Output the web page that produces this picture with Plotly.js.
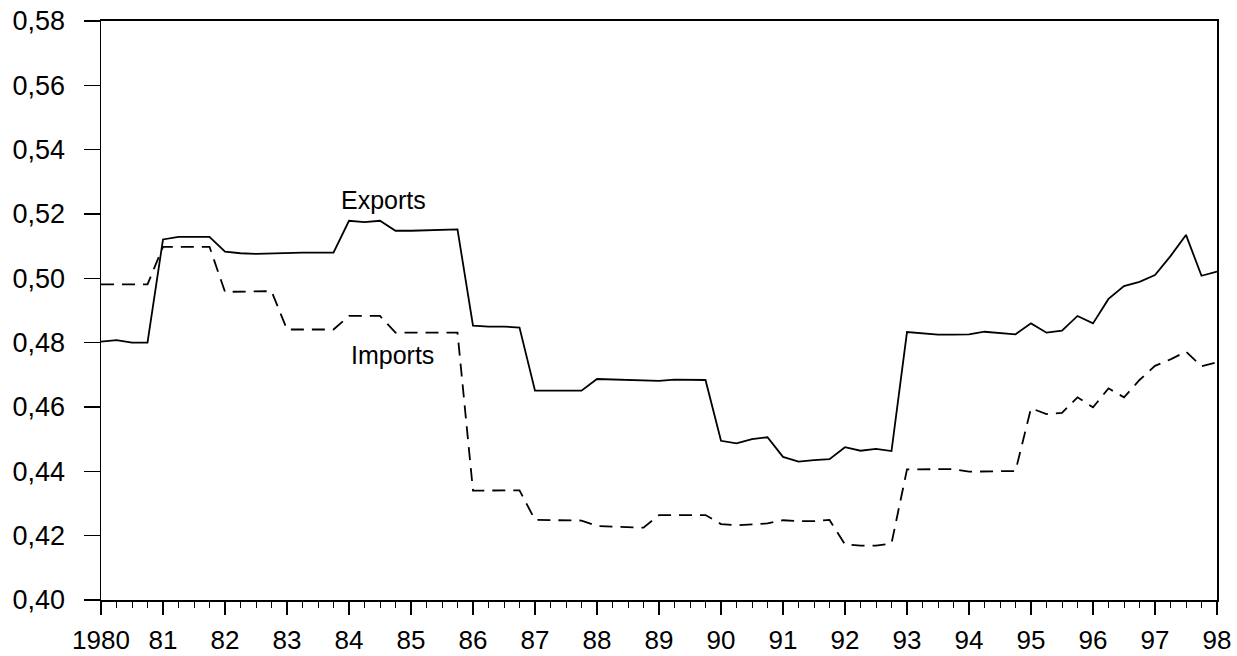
<!DOCTYPE html>
<html>
<head>
<meta charset="utf-8">
<script src="https://cdn.plot.ly/plotly-3.0.1.min.js"></script>
<style>html,body{margin:0;padding:0;background:#fff;}#chart{width:1237px;height:656px;}</style>
</head>
<body>
<div id="chart"></div>
<script>
const startYear = 1980;
const quartersPerYear = 4;

const exportsSeries = [
  0.4803, 0.4808, 0.4800, 0.4800,
  0.5121, 0.5129, 0.5129, 0.5129,
  0.5083, 0.5078, 0.5076, 0.5078,
  0.5080, 0.5080, 0.5080, 0.5080,
  0.5179, 0.5175, 0.5179, 0.5148,
  0.5148, 0.5150, 0.5152, 0.5152,
  0.4853, 0.4850, 0.4850, 0.4847,
  0.4651, 0.4651, 0.4651, 0.4651,
  0.4687, 0.4685, 0.4683, 0.4683,
  0.4681, 0.4685, 0.4684, 0.4684,
  0.4495, 0.4487, 0.4500, 0.4506,
  0.4445, 0.4430, 0.4435, 0.4438,
  0.4475, 0.4464, 0.4470, 0.4463,
  0.4833, 0.4828, 0.4825, 0.4825,
  0.4826, 0.4834, 0.4830, 0.4826,
  0.4860, 0.4831, 0.4837, 0.4883,
  0.4860, 0.4936, 0.4976, 0.4989,
  0.5010, 0.5069, 0.5135, 0.5008,
  0.5021
];

const importsSeries = [
  0.4981, 0.4981, 0.4981, 0.4981,
  0.5098, 0.5098, 0.5098, 0.5098,
  0.4958, 0.4958, 0.4958, 0.4960,
  0.4841, 0.4841, 0.4841, 0.4841,
  0.4883, 0.4883, 0.4883, 0.4831,
  0.4831, 0.4831, 0.4831, 0.4831,
  0.4340, 0.4340, 0.4340, 0.4341,
  0.4249, 0.4249, 0.4249, 0.4247,
  0.4230, 0.4228, 0.4225, 0.4225,
  0.4264, 0.4265, 0.4264, 0.4264,
  0.4236, 0.4232, 0.4235, 0.4238,
  0.4248, 0.4245, 0.4245, 0.4249,
  0.4173, 0.4169, 0.4169, 0.4176,
  0.4406, 0.4407, 0.4407, 0.4407,
  0.4399, 0.4400, 0.4400, 0.4401,
  0.4596, 0.4578, 0.4582, 0.4630,
  0.4599, 0.4658, 0.4630, 0.4684,
  0.4728, 0.4748, 0.4772, 0.4727,
  0.4739
];

const xTickValues = [1980,1981,1982,1983,1984,1985,1986,1987,1988,1989,1990,1991,1992,1993,1994,1995,1996,1997,1998];
const xTickLabels = ["1980","81","82","83","84","85","86","87","88","89","90","91","92","93","94","95","96","97","98"];
const yTickValues = [0.40,0.42,0.44,0.46,0.48,0.50,0.52,0.54,0.56,0.58];
const yTickLabels = ["0,40","0,42","0,44","0,46","0,48","0,50","0,52","0,54","0,56","0,58"];

const seriesNames = ["Exports", "Imports"];

const quarterX = exportsSeries.map((_, i) => startYear + i / quartersPerYear);

const font = "Liberation Sans, Arial, sans-serif";

const traces = [
  {x: quarterX, y: exportsSeries, name: seriesNames[0], mode: "lines",
   line: {color: "#000", width: 1.8}},
  {x: quarterX, y: importsSeries, name: seriesNames[1], mode: "lines",
   line: {color: "#000", width: 1.8, dash: "13px,8px"}}
];

const layout = {
  width: 1237, height: 656,
  margin: {l: 101, r: 20, t: 21, b: 56},
  paper_bgcolor: "#fff", plot_bgcolor: "#fff",
  showlegend: false,
  font: {family: font, size: 24, color: "#000"},
  xaxis: {
    range: [1980, 1998],
    tickvals: xTickValues, ticktext: xTickLabels,
    ticks: "outside", ticklen: 13, tickwidth: 1.5, tickcolor: "#000",
    minor: {dtick: 0.25, tick0: 1980, ticks: "outside", ticklen: 6, tickwidth: 1, tickcolor: "#000", showgrid: false},
    showline: true, linecolor: "#000", linewidth: 2, mirror: true,
    showgrid: false, zeroline: false,
    ticklabelstandoff: 3,
    tickfont: {family: font, size: 26, color: "#000"},
    fixedrange: true
  },
  yaxis: {
    range: [0.40, 0.58],
    tickvals: yTickValues, ticktext: yTickLabels,
    ticks: "outside", ticklen: 16, tickwidth: 1.5, tickcolor: "#000",
    showline: true, linecolor: "#000", linewidth: 1.5, mirror: true,
    showgrid: false, zeroline: false,
    ticklabelstandoff: 13,
    tickfont: {family: font, size: 27, color: "#000"},
    fixedrange: true
  },
  annotations: [
    {x: 1984.55, y: 0.5245, xref: "x", yref: "y", text: seriesNames[0], showarrow: false,
     font: {family: font, size: 25, color: "#000"}},
    {x: 1984.70, y: 0.4762, xref: "x", yref: "y", text: seriesNames[1], showarrow: false,
     font: {family: font, size: 25, color: "#000"}}
  ]
};

Plotly.newPlot("chart", traces, layout, {staticPlot: true, displayModeBar: false});
</script>
</body>
</html>
